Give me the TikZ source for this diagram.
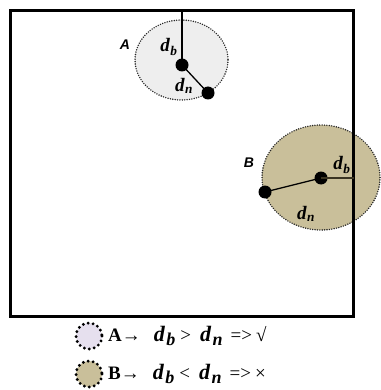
\documentclass[tikz,border=0pt]{standalone}
\usepackage{fontspec}
\setmainfont{Liberation Serif}
\newfontfamily\labsans{Liberation Sans}
\definecolor{fillA}{HTML}{EEEEEE}
\definecolor{fillB}{HTML}{C9BF9A}
\definecolor{legA}{HTML}{E6E0EE}
\definecolor{lineB}{HTML}{3A3422}
\newcommand{\dd}[1]{\textbf{\textit{d}\kern0.3pt\textsubscript{\textit{#1}}}}
\newcommand{\ld}[1]{{\bfseries\itshape\fontsize{22}{22}\selectfont d\kern1.5pt\raisebox{-4pt}{\fontsize{18}{18}\selectfont #1}}}
\tikzset{
  dotnode/.style={circle,fill=black,inner sep=0pt,minimum size=13pt},
  zone/.style={draw=black!85,line width=1.6pt,dash pattern=on 0pt off 2.4pt,line cap=round},
  legzone/.style={draw=black,line width=3.2pt,dash pattern=on 0pt off 5pt,line cap=round},
  conn/.style={line width=1.3pt},
  dlab/.style={font=\fontsize{19}{19}\selectfont,inner sep=0pt},
  zlab/.style={font=\labsans\bfseries\itshape\fontsize{14}{14}\selectfont,inner sep=0pt},
  legtxt/.style={font=\fontsize{19}{19}\selectfont,anchor=west,inner sep=0pt}
}
\begin{document}
\begin{tikzpicture}[x=1pt,y=-1pt]
\useasboundingbox (0,0) rectangle (380,390);
% zones
\fill[fillA] (181.5,60) ellipse [x radius=46.5,y radius=40];
\draw[zone] (181.5,60) ellipse [x radius=46.5,y radius=40];
\fill[fillB] (321,177.5) ellipse [x radius=59,y radius=52.5];
\draw[zone] (321,177.5) ellipse [x radius=59,y radius=52.5];
% field boundary
\draw[line width=3pt] (10,11) rectangle (353.5,316.5);
% points
\coordinate (topA) at (182,11);
\coordinate (edgeB) at (353.5,178);
\node[dotnode] (a1) at (182,65) {};
\node[dotnode] (a2) at (208,93) {};
\node[dotnode] (b1) at (321,178) {};
\node[dotnode] (b2) at (265,192) {};
\draw[conn] (topA) -- (a1.center);
\draw[conn] (a1.center) -- (a2.center);
\draw[conn] (b2.center) -- (b1.center);
\draw[conn,draw=lineB] (b1.center) -- (edgeB);
% labels
\node[zlab] (labA) at (125,45) {A};
\node[zlab] (labB) at (249,163) {B};
\node[dlab] (ab) at (169,47) {\dd{b}};
\node[dlab] (an) at (184,86) {\dd{n}};
\node[dlab] (bb) at (342,165) {\dd{b}};
\node[dlab] (bn) at (306,214) {\dd{n}};
% legend
\fill[legA] (89,336) circle (13);
\draw[legzone] (89,336) circle (13);
\fill[fillB] (89,374) circle (13);
\draw[legzone] (89,374) circle (13);
\node[legtxt] (legA) at (108,336) {\textbf{A}→\hspace{13pt}\ld{b}\hspace{5pt}>\hspace{9pt}\ld{n}\hspace{8pt}=>\hspace{4pt}√};
\node[legtxt] (legB) at (108,374) {\textbf{B}→\hspace{13pt}\ld{b}\hspace{5pt}<\hspace{9pt}\ld{n}\hspace{8pt}=>\hspace{4pt}×};
\end{tikzpicture}
\end{document}
